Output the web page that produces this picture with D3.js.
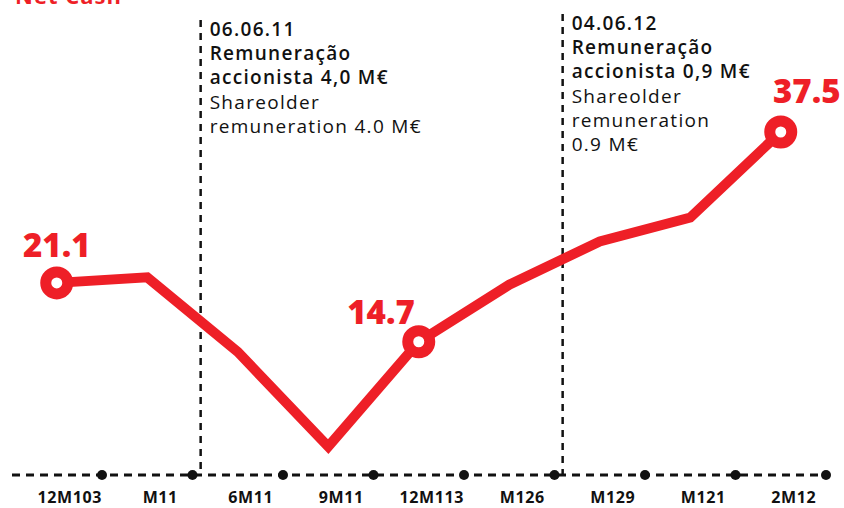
<!DOCTYPE html>
<html>
<head>
<meta charset="utf-8">
<script src="https://cdn.jsdelivr.net/npm/d3@7"></script>
<style>
  html, body { margin: 0; padding: 0; background: #fff; }
  svg { display: block; }
  text { font-family: "Open Sans", "Noto Sans", sans-serif; }
</style>
</head>
<body>
<svg id="chart" width="844" height="508"></svg>
<script>
// ---- data ----
const title = "Net Cash";
const categories = ["12M103", "M11", "6M11", "9M11", "12M113", "M126", "M129", "M121", "2M12"];
const netCash = [21.1, 21.7, 13.6, 3.3, 14.7, 20.9, 25.6, 28.2, 37.5];
const labelledIdx = [0, 4, 8];
const eventCategory = ["6M11", "M129"];
const eventLinesBold = [
  ["06.06.11", "Remuneração", "accionista 4,0 M€"],
  ["04.06.12", "Remuneração", "accionista 0,9 M€"]
];
const eventLinesRegular = [
  ["Shareolder", "remuneration 4.0 M€"],
  ["Shareolder", "remuneration", "0.9 M€"]
];

// ---- layout ----
const W = 844, H = 508;
const red = "#ee1f27", ink = "#111";
const axisY = 475;
const svg = d3.select("#chart");

const x = d3.scaleBand().domain(categories).range([11.5, 826]).padding(0);
const y = d3.scaleLinear().domain([0, 40]).range([477, 109]);
const cx = c => x(c) + x.bandwidth() / 2;

// title (cropped at top, as in the original)
svg.append("text").attr("x", 15).attr("y", 4)
  .attr("fill", red).attr("font-weight", 700).attr("font-size", 22)
  .attr("letter-spacing", 1)
  .text(title);

// horizontal dashed axis
svg.append("line").attr("x1", 12).attr("x2", 826).attr("y1", axisY).attr("y2", axisY)
  .attr("stroke", ink).attr("stroke-width", 3).attr("stroke-dasharray", "8,6");

// boundary dots
const bounds = categories.map(c => x(c) + x.bandwidth());
svg.selectAll("circle.tick").data(bounds).join("circle").attr("class", "tick")
  .attr("cx", d => d).attr("cy", axisY).attr("r", 5).attr("fill", ink);

// category labels
svg.selectAll("text.cat").data(categories).join("text").attr("class", "cat")
  .attr("x", d => cx(d) + 13).attr("y", 503)
  .attr("text-anchor", "middle").attr("font-weight", 700).attr("font-size", 16)
  .attr("letter-spacing", 0.6)
  .attr("fill", ink).text(d => d);

// event vertical lines + annotations
const eventX = eventCategory.map(c => x(c) + x.bandwidth() * 0.09);
const eventTop = [20, 14];
const textTop = [36, 30];
eventX.forEach((ex, i) => {
  svg.append("line").attr("x1", ex).attr("x2", ex).attr("y1", eventTop[i]).attr("y2", axisY)
    .attr("stroke", ink).attr("stroke-width", 2.5).attr("stroke-dasharray", "7,6");
  const g = svg.append("g");
  const lines = eventLinesBold[i].map(t => ({t, b: true}))
    .concat(eventLinesRegular[i].map(t => ({t, b: false})));
  lines.forEach((l, j) => {
    g.append("text").attr("x", ex + 9).attr("y", textTop[i] + j * 24.2)
      .attr("font-size", 19).attr("font-weight", l.b ? 600 : 400)
      .attr("letter-spacing", 1.3)
      .attr("fill", ink).text(l.t);
  });
});

// line
const line = d3.line().x((d, i) => cx(categories[i])).y(d => y(d));
svg.append("path").datum(netCash).attr("d", line)
  .attr("fill", "none").attr("stroke", red).attr("stroke-width", 10)
  .attr("stroke-linejoin", "miter").attr("stroke-miterlimit", 10);

// markers
svg.selectAll("circle.mk").data(labelledIdx).join("circle").attr("class", "mk")
  .attr("cx", i => cx(categories[i])).attr("cy", i => y(netCash[i]))
  .attr("r", 11).attr("fill", "#fff").attr("stroke", red).attr("stroke-width", 11);

// value labels
const labelOffset = {0: [0, -26, "middle"], 4: [-4, -18, "end"], 8: [26, -29, "middle"]};
svg.selectAll("text.val").data(labelledIdx).join("text").attr("class", "val")
  .attr("x", i => cx(categories[i]) + labelOffset[i][0])
  .attr("y", i => y(netCash[i]) + labelOffset[i][1])
  .attr("text-anchor", i => labelOffset[i][2])
  .attr("font-size", 33).attr("font-weight", 800).attr("fill", red)
  .text(i => netCash[i].toFixed(1));
</script>
</body>
</html>
